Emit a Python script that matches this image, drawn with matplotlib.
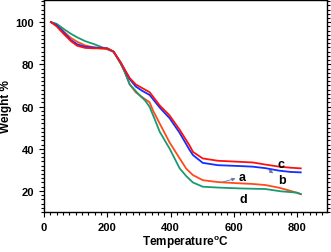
import matplotlib
matplotlib.use('Agg')
import matplotlib.pyplot as plt
from matplotlib.ticker import MultipleLocator

plt.rcParams['font.family'] = ['Liberation Sans', 'DejaVu Sans']
plt.rcParams['font.weight'] = 'bold'
plt.rcParams['mathtext.default'] = 'bf'

# TGA curves (temperature in C, weight in %)
t_a = [22, 40, 63, 85, 105, 130, 158, 180, 200, 220, 242, 255, 271, 290, 310, 334, 345, 366, 397, 429, 450, 471, 502, 550, 618, 660, 700, 744, 780, 812]
w_a = [100, 98.8, 95.5, 92.5, 90.7, 89, 88, 87.5, 87.2, 86, 80.5, 76.5, 70.5, 66.8, 64.5, 62, 58, 51.9, 43, 35.4, 30.5, 27.5, 25.1, 24.2, 23.6, 23.3, 22.8, 21.5, 20, 18.5]

t_b = [22, 40, 63, 85, 105, 130, 158, 180, 200, 220, 242, 255, 271, 290, 310, 334, 366, 397, 429, 460, 471, 502, 550, 618, 660, 700, 744, 780, 812]
w_b = [100, 98.5, 95, 91.5, 89.5, 88.3, 88, 87.8, 87.6, 86, 81, 77.5, 73, 69.5, 67.5, 65.5, 59.5, 54.5, 47.5, 39.5, 37, 33.3, 32.2, 31.8, 31.5, 30.8, 29.6, 29, 28.8]

t_c = [22, 40, 63, 85, 105, 130, 158, 180, 200, 220, 242, 255, 271, 290, 310, 334, 366, 397, 429, 460, 471, 502, 550, 618, 660, 700, 744, 780, 812]
w_c = [100, 98, 94.3, 91, 88.8, 87.8, 87.6, 87.6, 87.6, 86, 81, 77.5, 73.5, 70.5, 68.8, 66.8, 60.5, 55.8, 49, 41.6, 38.5, 35.4, 34.3, 33.8, 33.5, 32.5, 31.5, 31, 30.7]

t_d = [22, 40, 63, 85, 105, 130, 158, 180, 200, 220, 242, 255, 271, 303, 320, 334, 350, 366, 397, 429, 450, 471, 502, 550, 618, 700, 750, 800, 812]
w_d = [100, 99.2, 96.7, 94.5, 92.8, 91, 89.6, 88.3, 87.2, 86, 80.5, 76.5, 70.5, 65.2, 62.8, 59.8, 54, 48, 40.1, 30.7, 27, 24, 22, 21.6, 21.2, 20.9, 19.8, 19.2, 18.5]

fig = plt.figure(figsize=(3.31, 2.53), dpi=100)
ax = fig.add_axes([0.133, 0.158, 0.855, 0.838])

ax.plot(t_a, w_a, color='#ff4a1a', lw=1.3)
ax.plot(t_d, w_d, color='#1a9a70', lw=1.3)
ax.plot(t_b, w_b, color='#1030ff', lw=1.3)
ax.plot(t_c, w_c, color='#ff1010', lw=1.3)

ax.text(750, 32.8, 'c', ha='center', va='center', fontsize=9, fontweight='bold')
ax.text(752, 25.0, 'b', ha='center', va='center', fontsize=9, fontweight='bold')
ax.text(627, 26.8, 'a', ha='center', va='center', fontsize=9, fontweight='bold')
ax.text(629, 16.2, 'd', ha='center', va='center', fontsize=9, fontweight='bold')
ax.annotate('', xy=(614, 26.2), xytext=(558, 24.0),
            arrowprops=dict(arrowstyle='-|>', color='#6677aa', lw=0.6, mutation_scale=5))
ax.annotate('', xy=(732, 27.6), xytext=(704, 30.6),
            arrowprops=dict(arrowstyle='-|>', color='#6677aa', lw=0.6, mutation_scale=5))

ax.set_xlim(0, 895)
ax.set_ylim(10, 110.5)
ax.xaxis.set_major_locator(MultipleLocator(200))
ax.xaxis.set_minor_locator(MultipleLocator(20))
ax.yaxis.set_major_locator(MultipleLocator(20))
ax.yaxis.set_minor_locator(MultipleLocator(2))
ax.tick_params(which='both', direction='out', top=True, right=True, labelsize=8, width=0.8)
ax.tick_params(which='major', length=3.5)
ax.tick_params(which='minor', length=2)
for s in ax.spines.values():
    s.set_linewidth(1)

ax.set_xlabel('Temperature$^{\\mathregular{o}}$C', fontsize=8.5, fontweight='bold', labelpad=1)
ax.set_ylabel('Weight %', fontsize=8.5, fontweight='bold', labelpad=3)

fig.savefig('out.png', dpi=100)
